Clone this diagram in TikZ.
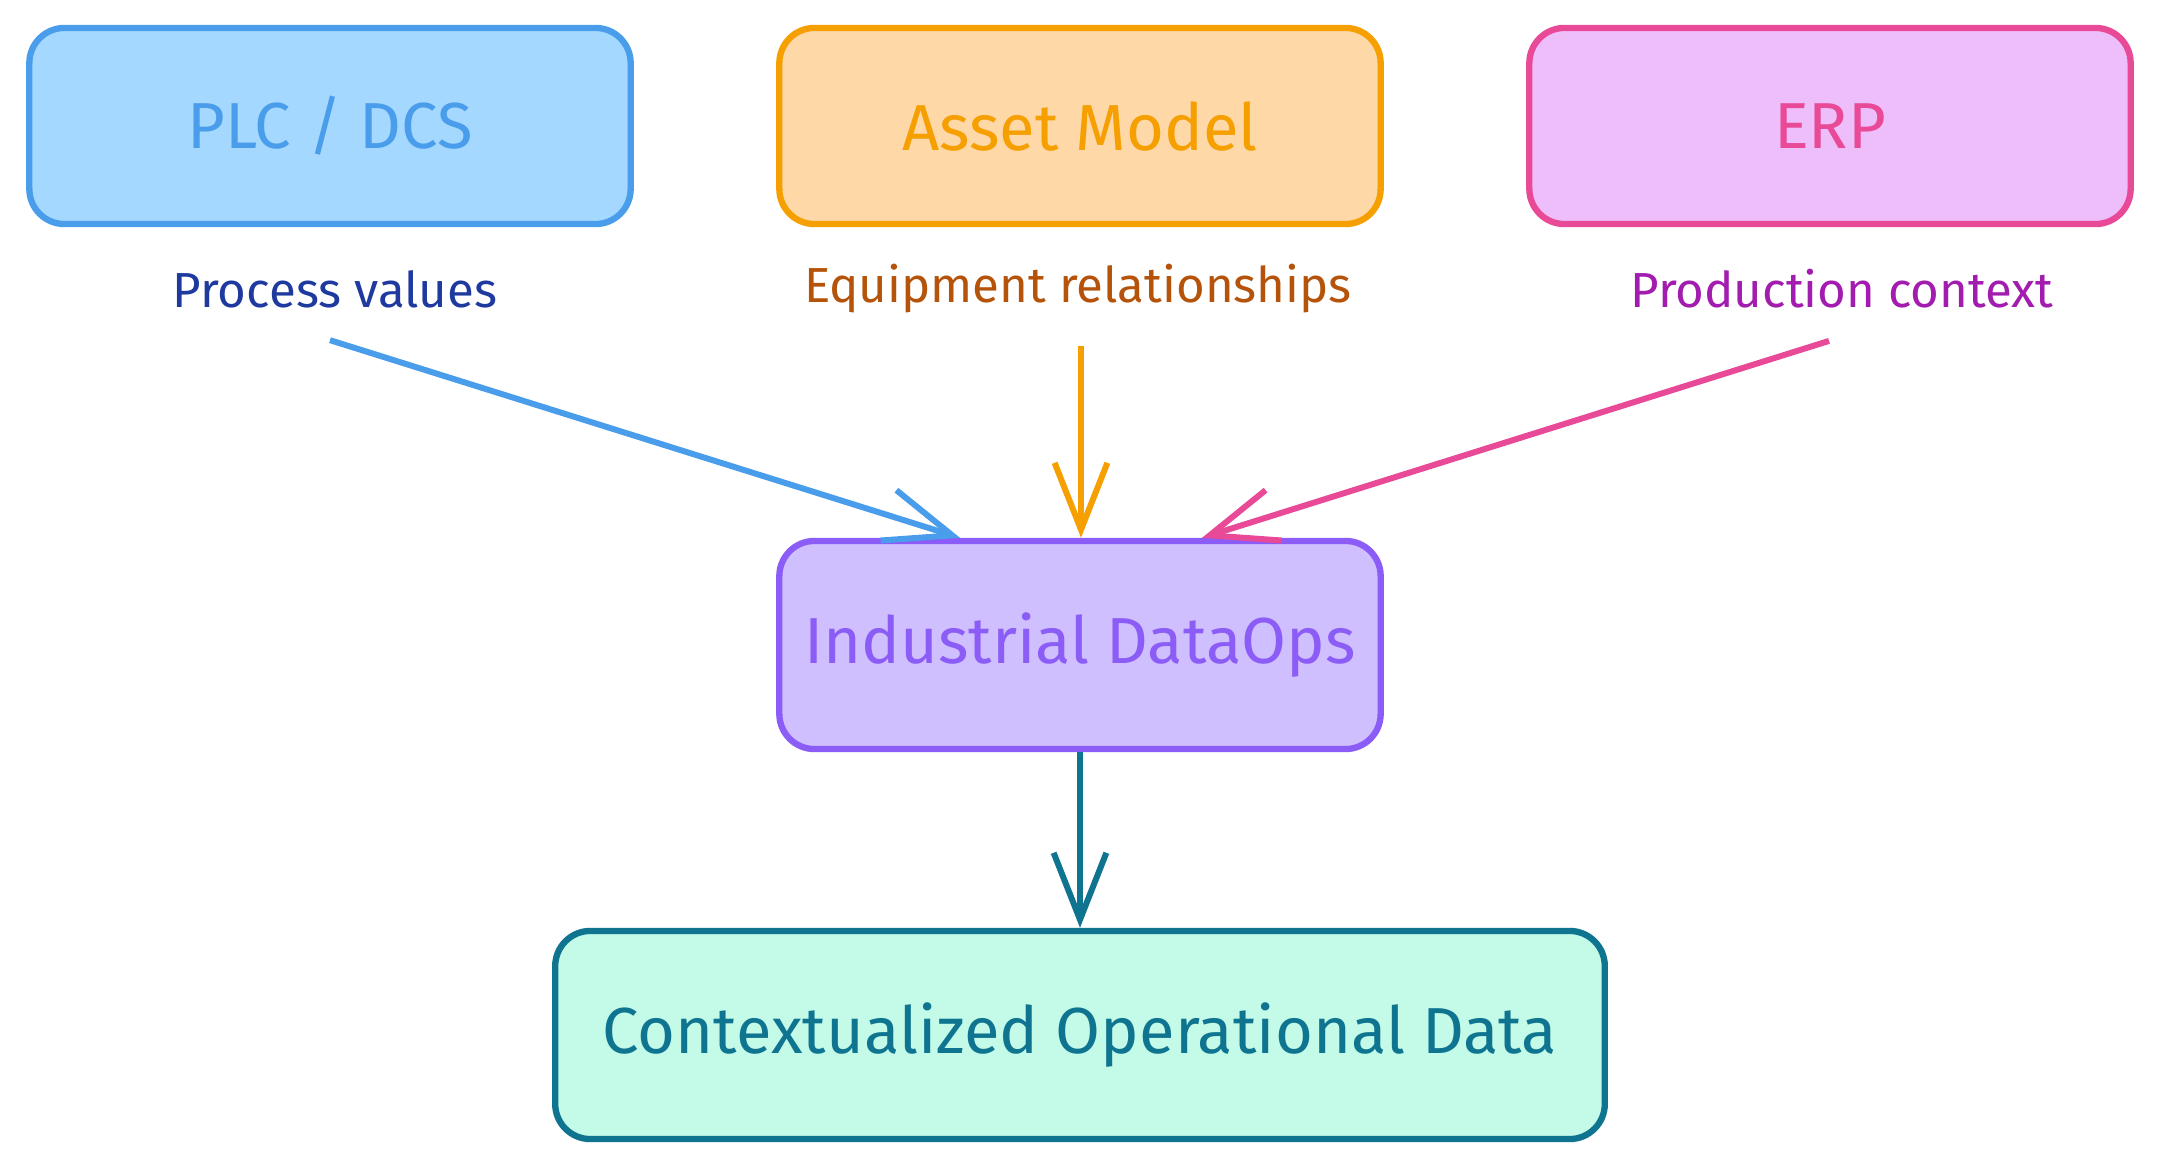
\documentclass[tikz,border=0pt]{standalone}
\usepackage{fontspec}
\setmainfont{Fira Sans}
\usepackage{xcolor}
\usetikzlibrary{arrows.meta,calc}

\definecolor{plcline}{HTML}{4A9DEB}
\definecolor{plcfill}{HTML}{A5D8FF}
\definecolor{assetline}{HTML}{F59F00}
\definecolor{assetfill}{HTML}{FFD8A8}
\definecolor{erpline}{HTML}{E84A98}
\definecolor{erpfill}{HTML}{EEBEFA}
\definecolor{opsline}{HTML}{8B5CF6}
\definecolor{opsfill}{HTML}{D0BFFF}
\definecolor{ctxline}{HTML}{0E7490}
\definecolor{ctxfill}{HTML}{C3FAE8}
\definecolor{pvtext}{HTML}{1E3A9F}
\definecolor{ertext}{HTML}{B45309}
\definecolor{pctext}{HTML}{A21CAF}

\tikzset{
  box/.style={draw, line width=1.8pt, rounded corners=10pt,
    font=\fontsize{18.5}{22}\selectfont, inner sep=0pt},
  lbl/.style={font=\fontsize{14}{17}\selectfont},
  flow/.style={line width=1.7pt, -{Straight Barb[length=19pt,width=15pt,line width=1.7pt]}}
}

\begin{document}
\begin{tikzpicture}[x=0.01cm,y=-0.01cm]
		\useasboundingbox (0,0) rectangle (2159,1170);
		\node[box, draw=plcline, fill=plcfill, text=plcline, minimum width=6.01cm, minimum height=1.96cm] (plc) at (330,126) {PLC / DCS};
		\node[box, draw=assetline, fill=assetfill, text=assetline, minimum width=6.01cm, minimum height=1.96cm] (asset) at (1080,126) {Asset Model};
		\node[box, draw=erpline, fill=erpfill, text=erpline, minimum width=6.01cm, minimum height=1.96cm] (erp) at (1830,126) {ERP};

		\node[lbl, text=pvtext] (pv) at (335,289) {Process values};
		\node[lbl, text=ertext] (er) at (1078,289) {Equipment relationships};
		\node[lbl, text=pctext] (pc) at (1842,289) {Production context};

		\node[box, draw=opsline, fill=opsfill, text=opsline, minimum width=6.01cm, minimum height=2.08cm] (ops) at (1080,645) {Industrial DataOps};
		\node[box, draw=ctxline, fill=ctxfill, text=ctxline, minimum width=10.49cm, minimum height=2.08cm] (ctx) at (1080,1035) {Contextualized Operational Data};
		%
		\path[flow]
		($(pv.south)+(-5,20)$) edge[plcline] ($(ops.north)+(-120,0)$)
		($(er.south)+(3,20)$) edge[assetline] ($(ops.north)+(1,0)$)
		($(pc.south)+(-13,20)$) edge[erpline] ($(ops.north)+(122,0)$)
		(ops.south) edge[ctxline] (ctx.north);
	\end{tikzpicture}
\end{document}
